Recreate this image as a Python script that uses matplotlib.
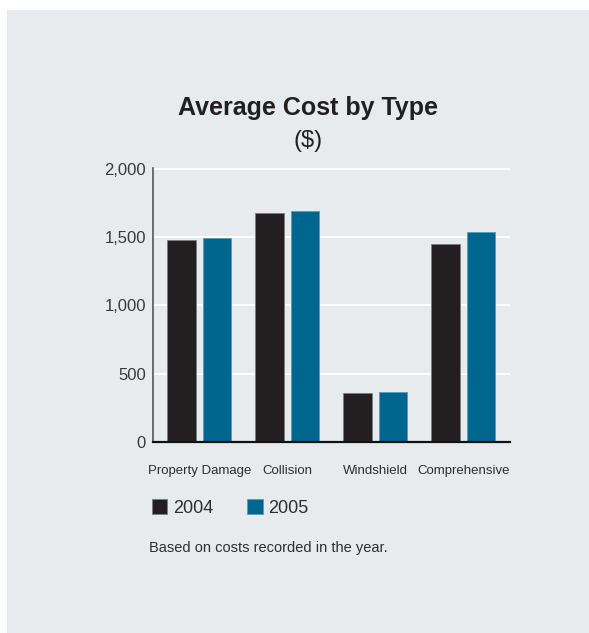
import matplotlib.pyplot as plt
import numpy as np
from matplotlib.patches import Rectangle

plt.rcParams['font.family'] = ['Liberation Sans', 'DejaVu Sans']

categories = ["Property Damage", "Collision", "Windshield", "Comprehensive"]
cost_2004 = [1480, 1676, 362, 1449]
cost_2005 = [1495, 1693, 368, 1537]
years = ["2004", "2005"]
yticks = [0, 500, 1000, 1500, 2000]
ytick_labels = ["0", "500", "1,000", "1,500", "2,000"]

W, H = 589, 633
bg = "#e7ebee"
dark = "#231f20"
blue = "#006690"
txt = "#2e2e2e"

fig = plt.figure(figsize=(W / 100, H / 100), dpi=100)
fig.patch.set_facecolor("white")
# grey panel behind everything
fig.patches.append(Rectangle((7 / W, 0), 1, 1 - 10 / H, transform=fig.transFigure,
                             facecolor=bg, edgecolor="none", zorder=-5))

ax = fig.add_axes([153 / W, 1 - 442.3 / H, (510 - 153) / W, (442.3 - 168) / H])
ax.set_facecolor(bg)
ax.patch.set_alpha(0)

x = np.arange(len(categories))
w = 0.324
b1 = ax.bar(x - 0.2, cost_2004, w, color=dark, edgecolor="#7d7d7d", linewidth=0.6,
            label=years[0], zorder=3)
b2 = ax.bar(x + 0.2, cost_2005, w, color=blue, edgecolor="#5b9bb6", linewidth=0.6,
            label=years[1], zorder=3)

ax.set_xlim(-0.526, 3.53)
ax.set_ylim(0, 2005)
ax.set_yticks(yticks)
ax.set_yticklabels(ytick_labels)
ax.set_xticks(x)
ax.set_xticklabels(categories)
ax.tick_params(axis="y", length=0, pad=5, labelsize=12, labelcolor="#3a3a3a")
ax.tick_params(axis="x", length=0, pad=16, labelsize=9.5, labelcolor=txt)

for v in yticks[1:]:
    ax.axhline(v, color="white", linewidth=1.3, zorder=1)

for s in ["top", "right"]:
    ax.spines[s].set_visible(False)
ax.spines["left"].set_color("#555555")
ax.spines["left"].set_linewidth(1.2)
ax.spines["bottom"].set_color("#111111")
ax.spines["bottom"].set_linewidth(1.6)
ax.spines["bottom"].set_zorder(4)

fig.text(308 / W, 1 - 107.5 / H, "Average Cost by Type", ha="center", va="center",
         fontsize=18, fontweight="bold", color=dark)
fig.text(308 / W, 1 - 141 / H, "($)", ha="center", va="center",
         fontsize=17, color=dark)

fig.legend(handles=[b1, b2], labels=years, loc="center left",
           bbox_to_anchor=(152 / W, 1 - 508 / H), bbox_transform=fig.transFigure,
           frameon=False, ncol=2, fontsize=13, handlelength=0.85, handleheight=0.85,
           handletextpad=0.3, columnspacing=1.9, borderpad=0, borderaxespad=0,
           labelcolor=txt)

fig.text(149 / W, 1 - 548 / H, "Based on costs recorded in the year.", ha="left",
         va="center", fontsize=10.5, color=txt)

fig.savefig("out.png", dpi=100, facecolor=fig.get_facecolor())
